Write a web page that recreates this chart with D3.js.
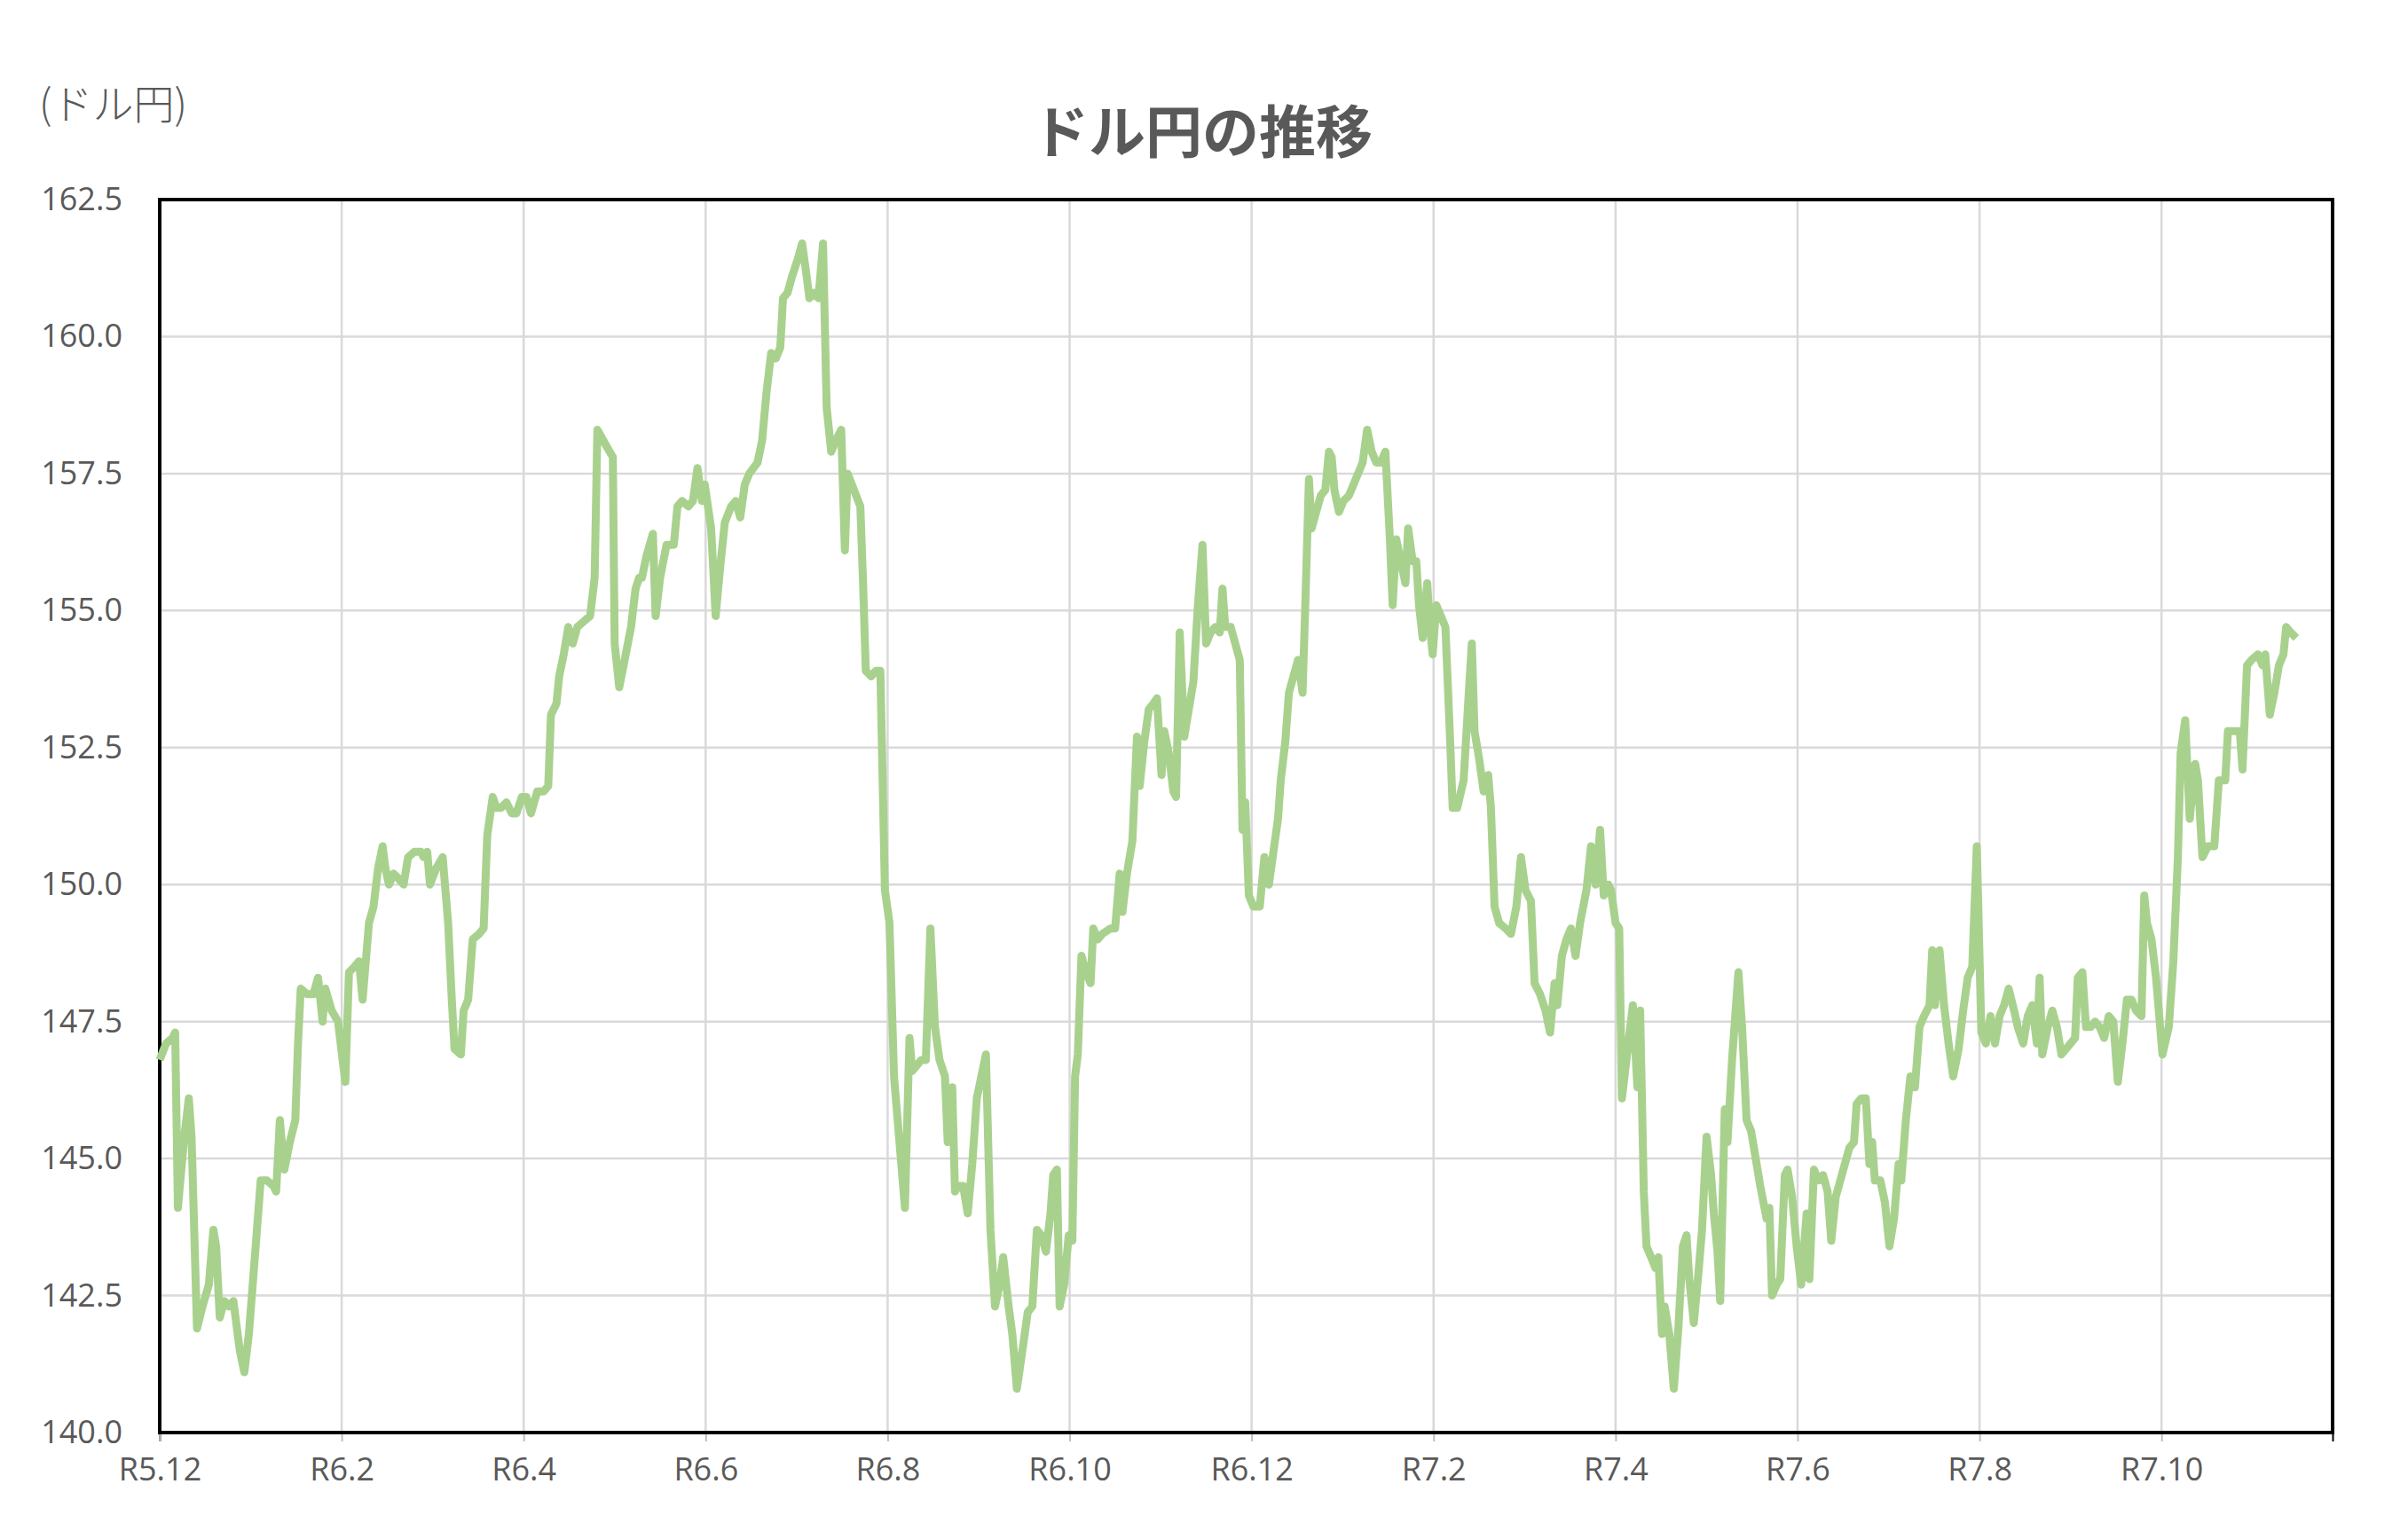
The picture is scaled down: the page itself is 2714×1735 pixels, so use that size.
<!DOCTYPE html>
<html><head><meta charset="utf-8">
<script src="https://cdn.jsdelivr.net/npm/d3@7"></script>
<style>body{margin:0;background:#fff}</style></head>
<body><svg id="c" width="2714" height="1735"></svg>
<script>
// months elapsed since R5.12 (Dec 2023)
const months = [0,.07,.14,.17,.20,.27,.32,.35,.41,.47,.54,.59,.62,.66,.71,.76,.81,.88,.93,.98,1.05,1.11,1.18,1.25,1.28,1.32,1.37,1.43,1.49,1.52,1.55,1.62,1.69,1.74,1.79,1.82,1.89,1.96,2.01,2.04,2.08,2.14,2.19,2.23,2.26,2.30,2.35,2.40,2.45,2.48,2.52,2.57,2.63,2.68,2.73,2.80,2.87,2.90,2.94,2.97,3.04,3.11,3.17,3.21,3.24,3.31,3.34,3.39,3.44,3.51,3.56,3.60,3.66,3.70,3.75,3.81,3.87,3.92,3.98,4.03,4.08,4.15,4.22,4.27,4.30,4.36,4.39,4.44,4.49,4.54,4.59,4.66,4.73,4.78,4.81,4.91,4.98,5.00,5.05,5.11,5.18,5.23,5.27,5.30,5.35,5.42,5.45,5.50,5.57,5.60,5.65,5.69,5.74,5.81,5.86,5.91,5.96,5.99,6.06,6.11,6.16,6.21,6.28,6.33,6.38,6.43,6.48,6.57,6.62,6.67,6.72,6.77,6.82,6.85,6.90,6.95,7.01,7.06,7.11,7.14,7.19,7.24,7.29,7.33,7.38,7.43,7.49,7.53,7.56,7.63,7.70,7.73,7.76,7.82,7.87,7.92,7.97,8.02,8.07,8.14,8.19,8.24,8.27,8.37,8.42,8.47,8.52,8.57,8.63,8.66,8.71,8.74,8.78,8.83,8.88,8.93,8.98,9.03,9.08,9.13,9.18,9.23,9.27,9.33,9.37,9.42,9.49,9.54,9.59,9.64,9.69,9.74,9.79,9.82,9.86,9.89,9.94,9.99,10.03,10.06,10.09,10.13,10.18,10.23,10.26,10.31,10.36,10.45,10.50,10.55,10.58,10.63,10.69,10.74,10.77,10.82,10.87,10.92,10.96,11.01,11.04,11.09,11.14,11.17,11.21,11.26,11.31,11.36,11.41,11.46,11.50,11.55,11.60,11.65,11.68,11.71,11.77,11.82,11.87,11.90,11.93,11.97,12.02,12.09,12.14,12.19,12.24,12.29,12.32,12.37,12.41,12.46,12.51,12.56,12.59,12.63,12.66,12.71,12.76,12.81,12.85,12.88,12.91,12.96,13.01,13.07,13.12,13.17,13.22,13.27,13.32,13.37,13.42,13.47,13.52,13.55,13.59,13.64,13.69,13.72,13.77,13.81,13.84,13.88,13.93,13.96,13.99,14.03,14.08,14.13,14.18,14.21,14.26,14.33,14.38,14.42,14.45,14.50,14.55,14.60,14.63,14.67,14.72,14.79,14.85,14.91,14.96,15.01,15.07,15.11,15.17,15.23,15.28,15.33,15.36,15.41,15.46,15.51,15.56,15.61,15.68,15.73,15.78,15.83,15.87,15.92,15.95,16.00,16.04,16.07,16.14,16.19,16.24,16.27,16.31,16.34,16.39,16.44,16.47,16.51,16.54,16.59,16.64,16.69,16.74,16.78,16.81,16.86,16.91,16.95,17.00,17.05,17.08,17.12,17.15,17.20,17.23,17.28,17.35,17.39,17.44,17.49,17.54,17.59,17.66,17.69,17.72,17.77,17.81,17.86,17.89,17.94,17.99,18.04,18.10,18.13,18.18,18.23,18.28,18.33,18.37,18.42,18.47,18.52,18.57,18.62,18.65,18.70,18.75,18.79,18.82,18.85,18.91,18.96,19.01,19.06,19.11,19.14,19.19,19.24,19.29,19.34,19.39,19.45,19.48,19.51,19.56,19.61,19.66,19.71,19.77,19.82,19.87,19.92,19.97,20.02,20.07,20.12,20.17,20.22,20.27,20.32,20.38,20.42,20.48,20.53,20.58,20.63,20.66,20.69,20.75,20.80,20.85,20.90,20.95,21.00,21.05,21.08,21.13,21.17,21.22,21.27,21.32,21.37,21.42,21.47,21.52,21.57,21.62,21.67,21.72,21.78,21.81,21.84,21.89,21.94,22.01,22.08,22.13,22.18,22.21,22.26,22.31,22.37,22.40,22.45,22.51,22.58,22.63,22.70,22.73,22.80,22.86,22.89,22.94,22.99,23.06,23.11,23.14,23.19,23.24,23.29,23.34,23.37,23.42,23.48];
const usdjpy = [146.8,147.1,147.2,147.3,144.1,145.4,146.1,145.4,141.9,142.3,142.7,143.7,143.4,142.1,142.4,142.3,142.4,141.5,141.1,141.8,143.3,144.6,144.6,144.5,144.4,145.7,144.8,145.3,145.7,147.1,148.1,148.0,148.0,148.3,147.5,148.1,147.7,147.5,146.8,146.4,148.4,148.5,148.6,147.9,148.5,149.3,149.6,150.3,150.7,150.3,150.0,150.2,150.1,150.0,150.5,150.6,150.6,150.5,150.6,150.0,150.3,150.5,149.3,147.9,147.0,146.9,147.7,147.9,149.0,149.1,149.2,150.9,151.6,151.4,151.4,151.5,151.3,151.3,151.6,151.6,151.3,151.7,151.7,151.8,153.1,153.3,153.8,154.2,154.7,154.4,154.7,154.8,154.9,155.6,158.3,158.0,157.8,154.4,153.6,154.1,154.7,155.4,155.6,155.6,156.0,156.4,154.9,155.6,156.2,156.2,156.2,156.9,157.0,156.9,157.0,157.6,157.0,157.3,156.5,154.9,155.8,156.6,156.9,157.0,156.7,157.3,157.5,157.7,158.1,159.0,159.7,159.6,159.8,160.7,160.8,161.1,161.4,161.7,161.1,160.7,160.8,160.7,161.7,158.7,157.9,158.1,158.3,156.1,157.5,157.2,156.9,155.5,153.9,153.8,153.9,153.9,149.9,149.3,146.5,145.1,144.1,147.2,146.6,146.8,146.8,149.2,147.4,146.8,146.5,145.3,146.3,144.4,144.5,144.5,144.0,144.9,146.1,146.5,146.9,143.7,142.3,142.7,143.2,142.3,141.8,140.8,141.6,142.2,142.3,143.7,143.6,143.3,144.0,144.7,144.8,142.3,142.7,143.6,143.5,146.5,146.9,148.7,148.4,148.2,149.2,149.0,149.1,149.2,149.2,150.2,149.5,150.2,150.8,152.7,151.8,152.6,153.2,153.3,153.4,152.0,152.8,152.4,151.7,151.6,154.6,152.7,153.2,153.7,155.1,156.2,154.4,154.6,154.7,154.6,155.4,154.7,154.7,154.4,154.1,151.0,151.5,149.8,149.6,149.6,150.5,150.0,150.6,151.2,151.9,152.6,153.5,153.8,154.1,153.5,155.1,157.4,156.5,156.8,157.1,157.2,157.9,157.8,157.2,156.8,157.0,157.1,157.3,157.5,157.7,158.3,157.9,157.7,157.7,157.9,156.3,155.1,156.3,155.9,155.5,156.5,155.9,155.9,155.1,154.5,155.5,154.7,154.2,155.1,154.9,154.7,152.7,151.4,151.4,151.9,153.3,154.4,152.8,152.3,151.7,152.0,151.4,149.6,149.3,149.2,149.1,149.6,150.5,149.9,149.7,148.2,148.0,147.7,147.3,148.2,147.8,148.7,149.0,149.2,148.7,149.3,149.9,150.7,150.0,151.0,149.8,150.0,149.9,149.3,149.2,146.1,147.1,147.8,146.3,147.7,144.4,143.4,143.2,143.0,143.2,141.8,142.3,141.8,140.8,141.9,143.4,143.6,142.8,142.0,142.9,143.7,145.4,144.7,144.0,143.3,142.4,145.9,145.3,146.8,148.4,147.4,145.7,145.5,145.0,144.5,143.9,144.1,142.5,142.7,142.8,144.7,144.8,144.3,143.4,142.7,144.0,142.8,144.8,144.6,144.7,144.4,143.5,144.3,144.6,144.9,145.2,145.3,146.0,146.1,146.1,144.9,145.3,144.6,144.6,144.2,143.4,143.9,144.9,144.6,145.7,146.5,146.3,147.4,147.6,147.8,148.8,147.8,148.8,147.8,147.1,146.5,147.0,147.7,148.3,148.5,150.7,147.3,147.1,147.6,147.1,147.6,147.8,148.1,147.7,147.4,147.1,147.6,147.8,147.1,148.3,146.9,147.4,147.7,147.4,146.9,147.0,147.1,147.2,148.3,148.4,147.4,147.4,147.5,147.4,147.2,147.6,147.5,146.4,147.1,147.9,147.9,147.7,147.6,149.8,149.3,149.0,148.3,146.9,147.4,148.6,150.5,152.4,153.0,151.2,152.2,151.9,150.5,150.7,150.7,151.9,151.9,152.8,152.8,152.8,152.1,154.0,154.1,154.2,154.0,154.2,153.1,153.5,154.0,154.2,154.7,154.6,154.5];
const xTickMonths = [0,2,4,6,8,10,12,14,16,18,20,22];
const xTickLabels = ["R5.12","R6.2","R6.4","R6.6","R6.8","R6.10","R6.12","R7.2","R7.4","R7.6","R7.8","R7.10"];
const yTicks = [140,142.5,145,147.5,150,152.5,155,157.5,160,162.5];
const title = "ドル円の推移";
const unitLabel = "(ドル円)";

const svg = d3.select("#c");
const L=180,R=2629,T=225,B=1615;
const x = d3.scaleLinear().domain([0,23.88]).range([L,R]);
const y = d3.scaleLinear().domain([140,162.5]).range([B,T]);
const font = "'Open Sans','Noto Sans CJK JP',sans-serif";
const grey="#595959";

svg.append("g").selectAll("line.h").data(yTicks).join("line")
  .attr("x1",L).attr("x2",R).attr("y1",d=>y(d)).attr("y2",d=>y(d))
  .attr("stroke","#d9d9d9").attr("stroke-width",2.5);
svg.append("g").selectAll("line.v").data(xTickMonths.slice(1)).join("line")
  .attr("x1",d=>x(d)).attr("x2",d=>x(d)).attr("y1",T).attr("y2",B)
  .attr("stroke","#d9d9d9").attr("stroke-width",2.5);

const xa = svg.append("g").attr("transform",`translate(0,${B})`)
  .call(d3.axisBottom(x).tickValues(xTickMonths).tickFormat((d,i)=>xTickLabels[i]).tickSize(10).tickPadding(18));
xa.select(".domain").attr("stroke","#000").attr("stroke-width",2);
xa.selectAll(".tick line").attr("stroke","#bfbfbf").attr("stroke-width",2);
xa.selectAll("text").attr("font-family",font).attr("font-size",36).attr("fill",grey);

const ya = svg.append("g").attr("transform",`translate(${L},0)`)
  .call(d3.axisLeft(y).tickValues(yTicks).tickFormat(d3.format(".1f")).tickSize(0).tickPadding(42));
ya.select(".domain").remove();
ya.selectAll("text").attr("font-family",font).attr("font-size",36).attr("fill",grey);

svg.append("rect").attr("x",L).attr("y",T).attr("width",R-L).attr("height",B-T)
  .attr("fill","none").attr("stroke","#000").attr("stroke-width",4);

const data = months.map((m,i)=>({m,v:usdjpy[i]}));
svg.append("path").datum(data)
  .attr("d",d3.line().x(d=>x(d.m)).y(d=>y(d.v)))
  .attr("fill","none").attr("stroke","#a9d18e").attr("stroke-width",9)
  .attr("stroke-linejoin","round");

svg.append("text").attr("x",1355).attr("y",172).attr("text-anchor","middle")
  .attr("font-family","'Noto Sans CJK JP',sans-serif").attr("font-weight","bold")
  .attr("font-size",64).attr("fill",grey).text(title);
svg.append("text").attr("x",44).attr("y",134)
  .attr("font-family","'Noto Sans CJK JP',sans-serif").attr("font-weight",300)
  .attr("font-size",46).attr("fill",grey).text(unitLabel);
</script></body></html>
